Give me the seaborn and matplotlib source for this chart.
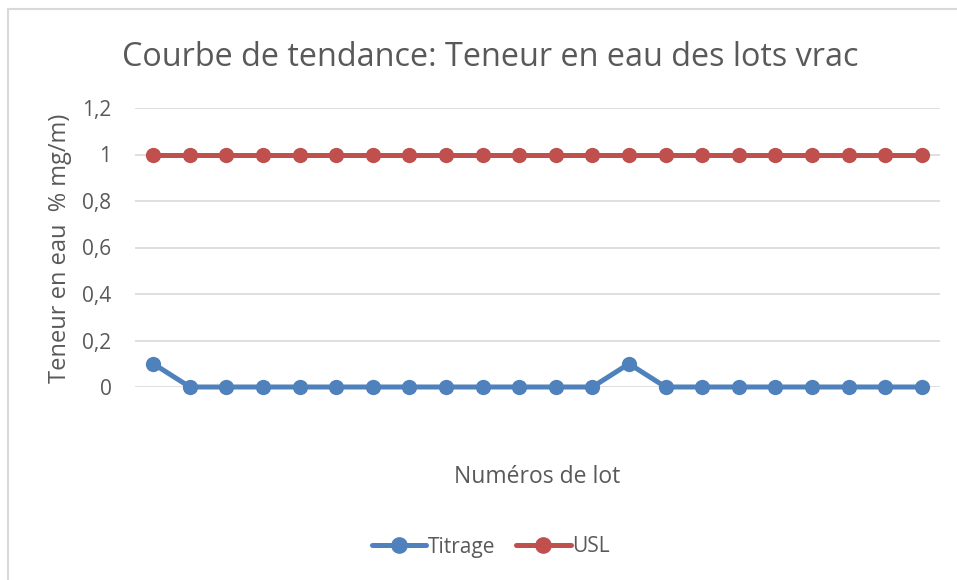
import pandas as pd
import numpy as np
import matplotlib
matplotlib.use("Agg")
import matplotlib.pyplot as plt
import seaborn as sns
from matplotlib.patches import Rectangle

# data
lots = list(range(1, 23))
titrage = [0.1, 0, 0, 0, 0, 0, 0, 0, 0, 0, 0, 0, 0, 0.1, 0, 0, 0, 0, 0, 0, 0, 0]
usl = [1] * 22
yticks = [0, 0.2, 0.4, 0.6, 0.8, 1, 1.2]
ytick_labels = ["0", "0,2", "0,4", "0,6", "0,8", "1", "1,2"]

df = pd.DataFrame({
    "lot": lots * 2,
    "valeur": titrage + usl,
    "serie": ["Titrage"] * 22 + ["USL"] * 22,
})

sns.set_style("white")
plt.rcParams['font.family'] = ['Open Sans', 'DejaVu Sans']
text_col = "#595959"

fig = plt.figure(figsize=(9.57, 5.8), dpi=100)
ax = fig.add_axes([135/957, 1 - 387/580, 805/957, 279/580])

sns.lineplot(data=df, x="lot", y="valeur", hue="serie",
             palette={"Titrage": "#4F81BD", "USL": "#C0504D"},
             marker="o", markersize=11, markeredgewidth=0,
             linewidth=3.6, ax=ax, legend=False, clip_on=False, zorder=3)

ax.set_xlim(0.5, 22.5)
ax.set_ylim(0, 1.2)
ax.set_yticks(yticks)
ax.set_yticklabels(ytick_labels, color=text_col, fontsize=15)
ax.set_xticks([])
ax.tick_params(axis="y", length=0, pad=17)
ax.grid(axis="y", color="#D9D9D9", linewidth=1.2)
for s in ax.spines.values():
    s.set_visible(False)
ax.set_xlabel("")
ax.set_ylabel("")

fig.text(490/957, 1 - 57/580, "Courbe de tendance: Teneur en eau des lots vrac",
         ha="center", va="center", fontsize=23.3, color=text_col)
fig.text(60/957, 1 - 248/580, "Teneur en eau  % mg/m)", rotation=90,
         ha="center", va="center", fontsize=17, color=text_col)
fig.text(537/957, 1 - 477/580, "Numéros de lot",
         ha="center", va="center", fontsize=16.5, color=text_col)

handles = [plt.Line2D([], [], color="#4F81BD", marker="o", markersize=11, linewidth=3.6),
           plt.Line2D([], [], color="#C0504D", marker="o", markersize=11, linewidth=3.6)]
leg = fig.legend(handles, ["Titrage", "USL"], loc="center", bbox_to_anchor=(491/957, 1 - 547/580),
                 ncol=2, frameon=False, fontsize=15, handlelength=2.6, handletextpad=0.1,
                 columnspacing=1.0)
for t in leg.get_texts():
    t.set_color(text_col)

fig.patches.append(Rectangle((8/957, -0.1), 1.2, 1.1 - 9/580, transform=fig.transFigure,
                             fill=False, edgecolor="#D9D9D9", linewidth=1.5))

fig.savefig("out.png", dpi=100)
